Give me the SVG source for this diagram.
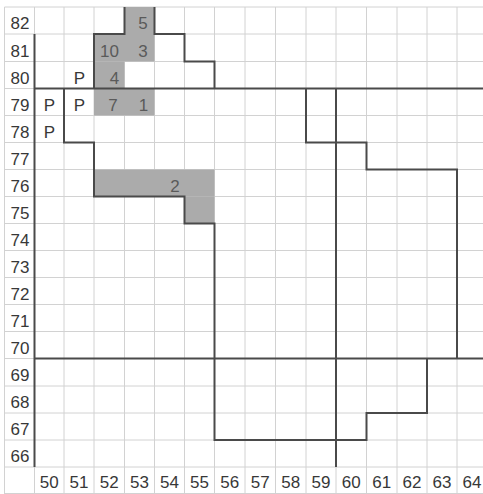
<svg xmlns="http://www.w3.org/2000/svg" width="483" height="494" viewBox="0 0 483 494">
<style>
.grid line{stroke:#d2d2d2;stroke-width:1}
.shade{fill:#ababab}
.bold{fill:none;stroke:#4a4a4a;stroke-width:2;stroke-linejoin:miter}
text{font-family:"Liberation Sans",Arial,sans-serif;font-size:17px}
.lab{fill:#383838;text-anchor:middle}
.cell{fill:#5a5a5a;text-anchor:middle}
</style>
<rect width="483" height="494" fill="#ffffff"/>
<g id="grid" class="grid">
<line x1="4.5" y1="7" x2="4.5" y2="494"/>
<line x1="34.5" y1="7" x2="34.5" y2="494"/>
<line x1="64" y1="7" x2="64" y2="494"/>
<line x1="94" y1="7" x2="94" y2="494"/>
<line x1="124.5" y1="7" x2="124.5" y2="494"/>
<line x1="154.5" y1="7" x2="154.5" y2="494"/>
<line x1="184.5" y1="7" x2="184.5" y2="494"/>
<line x1="214.5" y1="7" x2="214.5" y2="494"/>
<line x1="245" y1="7" x2="245" y2="494"/>
<line x1="275.5" y1="7" x2="275.5" y2="494"/>
<line x1="306" y1="7" x2="306" y2="494"/>
<line x1="336" y1="7" x2="336" y2="494"/>
<line x1="366.5" y1="7" x2="366.5" y2="494"/>
<line x1="397" y1="7" x2="397" y2="494"/>
<line x1="427" y1="7" x2="427" y2="494"/>
<line x1="457" y1="7" x2="457" y2="494"/>
<line x1="4.5" y1="7" x2="483" y2="7"/>
<line x1="4.5" y1="34" x2="483" y2="34"/>
<line x1="4.5" y1="61.5" x2="483" y2="61.5"/>
<line x1="4.5" y1="88.5" x2="483" y2="88.5"/>
<line x1="4.5" y1="115.5" x2="483" y2="115.5"/>
<line x1="4.5" y1="142.5" x2="483" y2="142.5"/>
<line x1="4.5" y1="169.5" x2="483" y2="169.5"/>
<line x1="4.5" y1="196.5" x2="483" y2="196.5"/>
<line x1="4.5" y1="223.5" x2="483" y2="223.5"/>
<line x1="4.5" y1="250.5" x2="483" y2="250.5"/>
<line x1="4.5" y1="277.5" x2="483" y2="277.5"/>
<line x1="4.5" y1="304.5" x2="483" y2="304.5"/>
<line x1="4.5" y1="331.5" x2="483" y2="331.5"/>
<line x1="4.5" y1="358.5" x2="483" y2="358.5"/>
<line x1="4.5" y1="386" x2="483" y2="386"/>
<line x1="4.5" y1="413" x2="483" y2="413"/>
<line x1="4.5" y1="440" x2="483" y2="440"/>
<line x1="4.5" y1="467" x2="483" y2="467"/>
<line x1="4.5" y1="493.5" x2="483" y2="493.5"/>
</g>
<g id="shading">
<rect class="shade" x="124.5" y="7" width="30" height="27"/>
<rect class="shade" x="94" y="34" width="60.5" height="27.5"/>
<rect class="shade" x="94" y="61.5" width="30.5" height="27"/>
<rect class="shade" x="94" y="88.5" width="60.5" height="27"/>
<rect class="shade" x="94" y="169.5" width="120.5" height="27"/>
<rect class="shade" x="184.5" y="196.5" width="30" height="27"/>
</g>
<g id="boundaries">
<path class="bold" d="M124.5,7 V34 H94 V88.5"/>
<path class="bold" d="M154.5,7 V34 H184.5 V61.5 H214.5 V88.5"/>
<path class="bold" d="M34.5,34 V467"/>
<path class="bold" d="M34.5,88.5 H483"/>
<path class="bold" d="M64,88.5 V142.5 H94 V196.5 H184.5 V223.5 H214.5 V440 H366.5 V413 H427 V358.5"/>
<path class="bold" d="M336,88.5 V467"/>
<path class="bold" d="M306,88.5 V142.5 H366.5 V169.5 H457 V358.5"/>
<path class="bold" d="M34.5,358.5 H483"/>
</g>
<g id="row-labels" class="lab">
<text x="20" y="29">82</text>
<text x="20" y="56.5">81</text>
<text x="20" y="83.5">80</text>
<text x="20" y="110.5">79</text>
<text x="20" y="137.5">78</text>
<text x="20" y="164.5">77</text>
<text x="20" y="191.5">76</text>
<text x="20" y="218.5">75</text>
<text x="20" y="245.5">74</text>
<text x="20" y="272.5">73</text>
<text x="20" y="299.5">72</text>
<text x="20" y="326.5">71</text>
<text x="20" y="353.5">70</text>
<text x="20" y="381">69</text>
<text x="20" y="408">68</text>
<text x="20" y="435">67</text>
<text x="20" y="462">66</text>
</g>
<g id="col-labels" class="lab">
<text x="49.3" y="488">50</text>
<text x="79" y="488">51</text>
<text x="109.3" y="488">52</text>
<text x="139.5" y="488">53</text>
<text x="169.5" y="488">54</text>
<text x="199.5" y="488">55</text>
<text x="229.8" y="488">56</text>
<text x="260.3" y="488">57</text>
<text x="290.8" y="488">58</text>
<text x="321" y="488">59</text>
<text x="351.3" y="488">60</text>
<text x="381.8" y="488">61</text>
<text x="412" y="488">62</text>
<text x="442" y="488">63</text>
<text x="472" y="488">64</text>
</g>
<g id="cell-labels" class="cell">
<text x="143" y="29">5</text>
<text x="109.5" y="56.5">10</text>
<text x="143" y="56.5">3</text>
<text x="114.5" y="83.5">4</text>
<text x="113" y="110.5">7</text>
<text x="143.5" y="110.5">1</text>
<text x="175" y="191.5">2</text>
</g>
<g id="p-labels" class="lab">
<text x="79.5" y="83.5">P</text>
<text x="49.5" y="110.5">P</text>
<text x="79.5" y="110.5">P</text>
<text x="49.5" y="137.5">P</text>
</g>
</svg>
